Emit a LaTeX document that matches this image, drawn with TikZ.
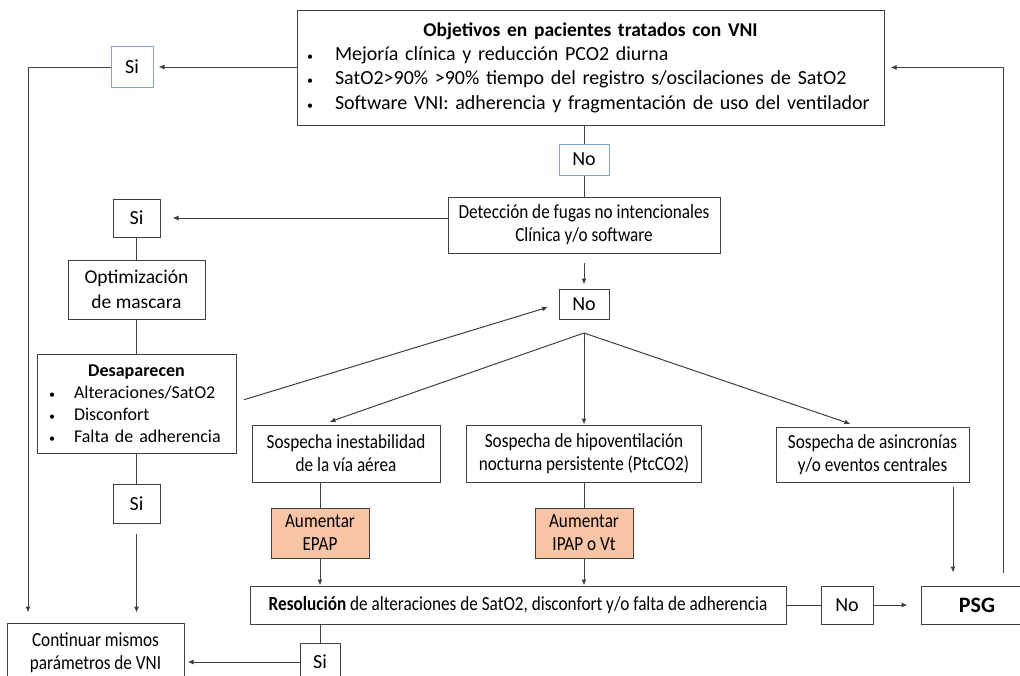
\documentclass[tikz,border=0pt]{standalone}
\usepackage{fontspec}
\setmainfont{Carlito}
\newfontfamily\narrowfont{Carlito}[FakeStretch=0.86]
\usetikzlibrary{arrows.meta}
\definecolor{linegray}{HTML}{404040}
\definecolor{boxblue}{HTML}{7FA6D3}
\definecolor{salmon}{HTML}{F8C4A6}
\newcommand{\blt}[1]{\makebox[#1][l]{\fontsize{12}{12}\selectfont\textbullet}}

\begin{document}
\begin{tikzpicture}[x=1pt,y=-1pt,
    box/.style={draw=linegray,line width=1pt,inner sep=0pt,align=center,
      font=\fontsize{20}{24}\selectfont},
    bluebox/.style={box,draw=boxblue},
    narrowbox/.style={box,font=\narrowfont\fontsize{20}{23}\selectfont},
    orangebox/.style={narrowbox,fill=salmon},
    ln/.style={draw=linegray,line width=1pt},
    arr/.style={ln,-{Latex[length=6pt,width=5pt]}}]
  \useasboundingbox (0,0) rectangle (1020,675);

  \node[box,minimum width=587,minimum height=115,text width=567,align=left,
    font=\fontsize{20}{24.3}\selectfont] (obj) at (590.5,67.5)
    {\makebox[567pt]{\fontsize{19.5}{24.3}\selectfont\textbf{Objetivos en pacientes tratados con VNI}}\\
     \blt{28pt}Mejoría clínica y reducción PCO2 diurna\\
     \blt{28pt}SatO2>90\% >90\% tiempo del registro s/oscilaciones de SatO2\\
     \blt{28pt}Software VNI: adherencia y fragmentación de uso del ventilador};
  \node[bluebox,minimum width=42,minimum height=41] (siA) at (132,67) {Si};
  \node[bluebox,minimum width=50,minimum height=31] (noA) at (584,159.5) {No};
  \node[narrowbox,minimum width=272,minimum height=56] (fugas) at (584,225)
    {Detección de fugas no intencionales\\Clínica y/o software};
  \node[box,minimum width=47,minimum height=38] (siB) at (136.5,218) {Si};
  \node[box,minimum width=137,minimum height=59,font=\fontsize{19.5}{25}\selectfont]
    (optim) at (136.5,289.5) {Optimización\\de mascara};
  \node[box,minimum width=199,minimum height=99,text width=175,align=left,
    font=\fontsize{18}{22}\selectfont] (desap) at (136.5,403.5)
    {\makebox[175pt]{\textbf{Desaparecen}}\\
     \blt{25pt}Alteraciones/SatO2\\
     \blt{25pt}Disconfort\\
     \blt{25pt}Falta de adherencia};
  \node[box,minimum width=50,minimum height=30] (noB) at (584,304) {No};
  \node[narrowbox,minimum width=188,minimum height=57] (inest) at (346,453.5)
    {Sospecha inestabilidad\\de la vía aérea};
  \node[narrowbox,minimum width=235,minimum height=57] (hipo) at (584,453.5)
    {Sospecha de hipoventilación\\nocturna persistente (PtcCO2)};
  \node[narrowbox,minimum width=193,minimum height=55] (asinc) at (872.5,454.5)
    {Sospecha de asincronías\\y/o eventos centrales};
  \node[orangebox,minimum width=98,minimum height=50] (epap) at (320,533)
    {Aumentar\\EPAP};
  \node[orangebox,minimum width=98,minimum height=50] (ipap) at (584,533)
    {Aumentar\\IPAP o Vt};
  \node[narrowbox,minimum width=536,minimum height=38] (resol) at (518,605)
    {\textbf{Resolución} de alteraciones de SatO2, disconfort y/o falta de adherencia};
  \node[box,minimum width=52,minimum height=38] (noC) at (847,605) {No};
  \node[box,minimum width=112,minimum height=38,font=\fontsize{22}{24}\selectfont]
    (psg) at (977,605) {\textbf{PSG}};
  \node[box,minimum width=47,minimum height=39] (siC) at (136.5,503.5) {Si};
  \node[box,minimum width=40,minimum height=38] (siD) at (320,662) {Si};
  \node[narrowbox,minimum width=177,minimum height=60] (cont) at (95.5,653)
    {Continuar mismos\\parámetros de VNI};

  \coordinate (apex) at (584,333);
  \coordinate (leftdown) at (28,67);
  \coordinate (rightup) at (1003,573);

  \draw[arr,shorten >=5pt] (obj.west |- siA) -- (siA.east);
  \draw[arr,shorten >=10pt] (siA.west) -- (leftdown) -- (leftdown |- cont.north);
  \draw[ln] (noA.north) -- (noA.north |- obj.south);
  \draw[ln] (noA.south) -- (noA.south |- fugas.north);
  \draw[arr,shorten >=12pt] (fugas.west |- siB) -- (siB.east);
  \draw[ln] (siB) -- (optim) -- (desap);
  \draw[ln] (desap.south) -- (siC.north);
  \draw[arr,shorten <=10pt,shorten >=10pt] (siC.south) -- (siC.south |- cont.north);
  \draw[arr,shorten <=9pt,shorten >=4pt] (fugas.south -| noB) -- (noB.north);
  \draw[arr,shorten <=8pt,shorten >=11pt] (desap.east |- 0,402) -- (noB.west);
  \draw[arr,shorten >=8pt] (apex) -- (inest.north -| 322,0);
  \draw[arr] (apex) -- (apex |- hipo.north);
  \draw[arr,shorten >=8pt] (apex) -- (asinc.north -| 858,0);
  \draw[ln] (epap.north) -- (epap.north |- inest.south);
  \draw[arr] (epap.south) -- (epap.south |- resol.north);
  \draw[ln] (hipo.south) -- (ipap.north);
  \draw[arr] (ipap.south) -- (ipap.south |- resol.north);
  \draw[ln] (resol.east) -- (noC.west);
  \draw[arr,shorten >=13pt] (noC.east) -- (psg.west);
  \draw[arr,shorten <=4pt,shorten >=13pt] (asinc.south -| 953,0) -- (psg.north -| 953,0);
  \draw[arr,shorten >=6pt] (rightup) -- (rightup |- obj.east) -- (obj.east);
  \draw[ln] (resol.south -| siD) -- (siD.north);
  \draw[arr,shorten >=3pt] (siD.west) -- (siD.west -| cont.east);
\end{tikzpicture}
\end{document}
